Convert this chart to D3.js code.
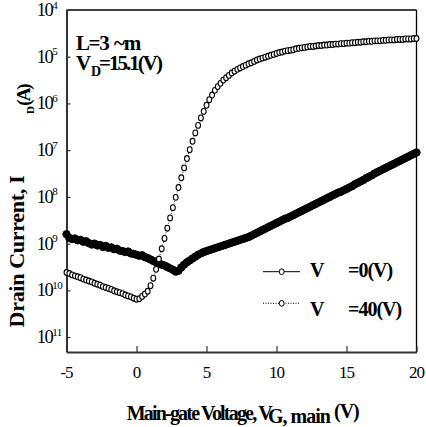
<!DOCTYPE html>
<html><head><meta charset="utf-8">
<script src="https://cdn.jsdelivr.net/npm/d3@7"></script>
<style>
body{margin:0;background:#fff}
svg{display:block}
text{font-family:"Liberation Serif","Times New Roman",Times,serif;fill:#000}
</style>
</head><body>
<svg id="c" width="426" height="427"></svg>
<script>
// Gate voltage sweep (V)
const vg = [-5,-4.8,-4.6,-4.4,-4.2,-4,-3.8,-3.6,-3.4,-3.2,-3,-2.8,-2.6,-2.4,-2.2,-2,-1.8,-1.6,-1.4,-1.2,-1,-0.8,-0.6,-0.4,-0.2,0,
0.2,0.4,0.6,0.8,1,1.2,1.4,1.6,1.8,2,2.2,2.4,2.6,2.8,3,3.2,3.4,3.6,3.8,4,4.2,4.4,4.6,4.8,5,5.2,5.4,5.6,5.8,6,
6.2,6.4,6.6,6.8,7,7.2,7.4,7.6,7.8,8,8.2,8.4,8.6,8.8,9,9.2,9.4,9.6,9.8,10,10.2,10.4,10.6,10.8,11,11.2,11.4,11.6,11.8,12,
12.2,12.4,12.6,12.8,13,13.2,13.4,13.6,13.8,14,14.2,14.4,14.6,14.8,15,15.2,15.4,15.6,15.8,16,16.2,16.4,16.6,16.8,17,17.2,17.4,17.6,17.8,18,
18.2,18.4,18.6,18.8,19,19.2,19.4,19.6,19.8,20];

// Drain current as decades below 1 A (I_D = 10^-value)
const idDecadesV0 = [8.80,8.88,8.90,8.89,8.93,8.92,8.96,8.95,8.99,9.02,9.00,9.04,9.03,9.07,9.05,9.09,9.08,9.12,9.11,9.15,9.16,9.18,9.17,9.21,9.22,9.24,
9.26,9.25,9.29,9.31,9.34,9.37,9.40,9.42,9.45,9.47,
9.50,9.53,9.56,9.60,9.58,9.51,9.45,9.40,9.36,9.32,
9.28,9.24,9.21,9.18,9.16,9.14,9.12,9.10,9.08,9.06,
9.04,9.02,9.00,8.98,8.96,8.94,8.92,8.90,8.88,8.86,
8.83,8.80,8.77,8.74,8.71,8.68,8.65,8.62,8.59,8.56,
8.53,8.50,8.47,8.45,8.42,8.39,8.36,8.33,8.30,8.27,
8.24,8.21,8.18,8.15,8.12,8.09,8.06,8.03,8.00,7.97,
7.94,7.91,7.89,7.86,7.83,7.80,7.77,7.73,7.70,7.67,
7.64,7.60,7.57,7.54,7.50,7.47,7.44,7.41,7.38,7.35,
7.32,7.29,7.26,7.23,7.20,7.17,7.14,7.11,7.08,7.05];

const idDecadesV40 = [9.62,9.64,9.67,9.69,9.71,9.73,9.76,9.78,9.80,9.82,9.85,9.87,9.89,9.92,9.94,9.96,9.98,10.01,10.03,10.05,10.07,10.10,10.12,10.14,10.17,10.19,
10.18,10.13,10.08,10.02,9.90,9.74,9.55,9.33,9.11,8.89,
8.67,8.45,8.23,8.01,7.80,7.59,7.38,7.18,6.99,6.81,
6.63,6.47,6.31,6.17,6.04,5.92,5.82,5.72,5.64,5.57,
5.50,5.45,5.40,5.35,5.31,5.27,5.24,5.21,5.18,5.15,
5.13,5.10,5.07,5.05,5.03,5.01,4.99,4.97,4.95,4.93,
4.91,4.90,4.88,4.87,4.86,4.85,4.83,4.82,4.81,4.80,
4.79,4.78,4.78,4.77,4.76,4.76,4.75,4.75,4.74,4.74,
4.73,4.73,4.72,4.72,4.71,4.71,4.70,4.70,4.69,4.69,
4.68,4.68,4.67,4.67,4.66,4.66,4.66,4.65,4.65,4.64,
4.64,4.64,4.63,4.63,4.63,4.62,4.62,4.62,4.61,4.61];

const yTickDecades = [4,5,6,7,8,9,10,11];
const yTickLabels = ["4","5","6","7","8","9","10","11"];
const xTicks = [-5,0,5,10,15,20];
const xTickLabels = ["-5","0","5","10","15","20"];
const legendLabels = ["=0(V)","=40(V)"];

const W=426,H=427,m={l:66.5,r:9.5,t:10,b:75};
const svg=d3.select("#c");
const x=d3.scaleLinear().domain([-5,20]).range([m.l,W-m.r]);
const y=d3.scaleLog().domain([1e-4,Math.pow(10,-11.32)]).range([m.t,H-m.b]);
const toA=d=>Math.pow(10,-d);

const s0=vg.map((v,i)=>({v,i:toA(idDecadesV0[i])}));
const s40=vg.map((v,i)=>({v,i:toA(idDecadesV40[i])}));

// frame top/right
svg.append("line").attr("x1",m.l).attr("x2",W-m.r).attr("y1",m.t).attr("y2",m.t).attr("stroke","#000").attr("stroke-width",1.3);
svg.append("line").attr("x1",W-m.r).attr("x2",W-m.r).attr("y1",m.t).attr("y2",H-m.b).attr("stroke","#000").attr("stroke-width",1.3);

// left axis
const ya=svg.append("g").attr("transform",`translate(${m.l},0)`)
 .call(d3.axisLeft(y).tickValues(yTickDecades.map(toA)).tickSizeInner(-4).tickSizeOuter(0).tickFormat(""));
ya.select(".domain").attr("stroke","#333").attr("stroke-width",2);
ya.selectAll(".tick line").attr("stroke","#333").attr("stroke-width",1.2);

// bottom axis
const xa=svg.append("g").attr("transform",`translate(0,${H-m.b})`)
 .call(d3.axisBottom(x).tickValues(xTicks).tickSizeInner(-6).tickSizeOuter(0).tickFormat(""));
xa.select(".domain").attr("stroke","#333").attr("stroke-width",2);
xa.selectAll(".tick line").attr("stroke","#333").attr("stroke-width",1.2);

// y tick labels
yTickDecades.forEach((d,k)=>{
  const t=svg.append("text").attr("x",36.7).attr("y",y(toA(d))+6).attr("font-size",18.5).attr("letter-spacing",-1.5);
  t.append("tspan").text("10");
  t.append("tspan").attr("font-size",11).attr("dy",-7.5).attr("letter-spacing",-0.5).text(yTickLabels[k]);
});
// x tick labels
xTicks.forEach((v,k)=>{
  svg.append("text").attr("x",x(v)).attr("y",378).attr("text-anchor","middle").attr("font-size",17).attr("letter-spacing",-1).text(xTickLabels[k]);
});

// series V=0 (dense, appears solid black)
svg.append("path").datum(s0).attr("fill","none").attr("stroke","#000").attr("stroke-width",4)
 .attr("d",d3.line().x(d=>x(d.v)).y(d=>y(d.i)));
svg.append("g").selectAll("circle").data(s0).join("circle")
 .attr("cx",d=>x(d.v)).attr("cy",d=>y(d.i)).attr("r",3.7).attr("fill","#000").attr("stroke","#000").attr("stroke-width",1);

// series V=40 (open circles)
svg.append("path").datum(s40).attr("fill","none").attr("stroke","#000").attr("stroke-width",0.8).attr("stroke-dasharray","1,1.5")
 .attr("d",d3.line().x(d=>x(d.v)).y(d=>y(d.i)));
svg.append("g").selectAll("ellipse").data(s40).join("ellipse")
 .attr("cx",d=>x(d.v)).attr("cy",d=>y(d.i)).attr("rx",2.4).attr("ry",2.9).attr("fill","#fff").attr("stroke","#000").attr("stroke-width",1.1);

// annotations
svg.append("text").attr("x",76).attr("y",50).attr("font-size",21).attr("font-weight","bold").attr("letter-spacing",-1.4).attr("word-spacing",2).text("L=3 ~m");
const vd=svg.append("text").attr("x",76).attr("y",70).attr("font-size",21).attr("font-weight","bold");
vd.append("tspan").text("V");
vd.append("tspan").attr("x",91).attr("dy",6).attr("font-size",14).text("D");
vd.append("tspan").attr("x",99).attr("dy",-6).attr("letter-spacing",-2).text("=15.1(V)");

// legend
[0,1].forEach(k=>{
  const ly=[271.7,303.3][k], by=[277,316][k];
  svg.append("line").attr("x1",263).attr("x2",300).attr("y1",ly).attr("y2",ly).attr("stroke","#000").attr("stroke-width",1)
    .attr("stroke-dasharray",k?"1,1.5":null);
  svg.append("ellipse").attr("cx",281.7).attr("cy",ly).attr("rx",2.4).attr("ry",2.9).attr("fill","#fff").attr("stroke","#000").attr("stroke-width",1);
  svg.append("text").attr("x",310).attr("y",by).attr("font-size",20).attr("font-weight","bold").text("V");
  svg.append("text").attr("x",348).attr("y",by).attr("font-size",20).attr("font-weight","bold").attr("letter-spacing",-1).text(legendLabels[k]);
});

// axis titles
const xt=svg.append("text").attr("x",126.7).attr("y",419.5).attr("font-size",20).attr("font-weight","bold").attr("letter-spacing",-1.8);
xt.append("tspan").text("Main-gate Voltage, V");
xt.append("tspan").attr("x",268).attr("dy",3.5).attr("letter-spacing",-1).text("G, main");
xt.append("tspan").attr("x",334).attr("dy",-5).attr("letter-spacing",-1).text("(V)");

const yt=svg.append("g").attr("transform","translate(24,251.5) rotate(-90)");
yt.append("text").attr("text-anchor","middle").attr("font-size",22).attr("font-weight","bold").attr("letter-spacing",-0.3).text("Drain Current, I");
const yt2=svg.append("g").attr("transform","translate(29.5,95.5) rotate(-90)");
yt2.append("text").attr("text-anchor","middle").attr("font-size",19).attr("font-weight","bold").attr("letter-spacing",-2).text("(A)");
const yt3=svg.append("g").attr("transform","translate(34,110) rotate(-90)");
yt3.append("text").attr("text-anchor","middle").attr("font-size",11).attr("font-weight","bold").text("D");
</script>
</body></html>
